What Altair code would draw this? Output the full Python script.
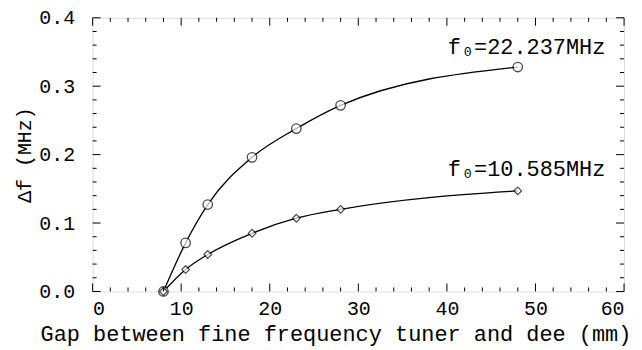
import altair as alt
import pandas as pd

gap = [8, 10.5, 13, 18, 23, 28, 48]
df_22 = [0.0, 0.071, 0.127, 0.196, 0.238, 0.272, 0.328]
df_10 = [0.0, 0.032, 0.054, 0.085, 0.107, 0.120, 0.147]

x_major = [0, 10, 20, 30, 40, 50, 60]
x_minor = [v for v in range(2, 60, 2) if v % 10 != 0]
y_major = [0.0, 0.1, 0.2, 0.3, 0.4]
y_minor = [round(0.02 * i, 2) for i in range(1, 20) if i % 5 != 0]

labels = ["f\u2080=22.237MHz", "f\u2080=10.585MHz"]
label_x = [40.1, 40.1]
label_y = [0.347, 0.169]

W, H = 534, 275
FONT = "Liberation Mono"

xs = alt.Scale(domain=[0, 60], nice=False, zero=False)
ys = alt.Scale(domain=[0, 0.4], nice=False)

data = pd.DataFrame({
    "gap": gap * 2,
    "df": df_22 + df_10,
    "series": ["a"] * len(gap) + ["b"] * len(gap),
})

X = alt.X("gap:Q", scale=xs, axis=alt.Axis(
    title="Gap between fine frequency tuner and dee (mm)", values=x_major,
    ticks=False, domain=False, grid=False, labelFontSize=20, titleFontSize=22,
    labelFont=FONT, titleFont=FONT, labelPadding=7,
    titleX=244, titleY=49, titleAlign="center", titleBaseline="alphabetic",
    titleFontWeight="normal", labelColor="black", titleColor="black"))
Y = alt.Y("df:Q", scale=ys, axis=alt.Axis(
    title="\u0394f (MHz)", values=y_major, format=".1f",
    ticks=False, domain=False, grid=False, labelFontSize=20, titleFontSize=20,
    labelFont=FONT, titleFont=FONT, labelPadding=18, titlePadding=4,
    titleFontWeight="normal", labelColor="black", titleColor="black"))

base = alt.Chart(data)
lines = base.mark_line(interpolate="monotone", color="black", strokeWidth=1.3).encode(
    x=X, y=Y, detail="series:N")
circles = alt.Chart(data[data.series == "a"]).mark_point(
    shape="circle", size=90, filled=True, fill="white", stroke="black", strokeWidth=1.3
).encode(x=alt.X("gap:Q", scale=xs), y=alt.Y("df:Q", scale=ys))
diamonds = alt.Chart(data[data.series == "b"]).mark_point(
    shape="diamond", size=60, filled=True, fill="white", stroke="black", strokeWidth=1.2
).encode(x=alt.X("gap:Q", scale=xs), y=alt.Y("df:Q", scale=ys))

lab = pd.DataFrame({"t": labels, "x": label_x, "y": label_y})
texts = alt.Chart(lab).mark_text(align="left", baseline="alphabetic", font=FONT,
                                 fontSize=22, color="black").encode(
    x=alt.X("x:Q", scale=xs), y=alt.Y("y:Q", scale=ys), text="t:N")

def xticks(vals, length):
    d = pd.DataFrame({"v": vals})
    b = alt.Chart(d).mark_rule(color="black", strokeWidth=1)
    bottom = b.encode(x=alt.X("v:Q", scale=xs), y=alt.value(H), y2=alt.value(H - length))
    top = b.encode(x=alt.X("v:Q", scale=xs), y=alt.value(0), y2=alt.value(length))
    return bottom + top

def yticks(vals, length):
    d = pd.DataFrame({"v": vals})
    b = alt.Chart(d).mark_rule(color="black", strokeWidth=1)
    left = b.encode(y=alt.Y("v:Q", scale=ys), x=alt.value(0), x2=alt.value(length))
    right = b.encode(y=alt.Y("v:Q", scale=ys), x=alt.value(W), x2=alt.value(W - length))
    return left + right

chart = alt.layer(
    lines, circles, diamonds, texts,
    xticks(x_major, 8), xticks(x_minor, 4), yticks(y_major, 8), yticks(y_minor, 4)
).properties(
    width=W, height=H, autosize=alt.AutoSizeParams(type="none"),
    padding={"left": 85, "top": 9, "right": 10, "bottom": 57}
).configure_view(stroke="black", strokeWidth=1.5).configure(background="white")

chart.save("out.html", embed_options={"renderer": "svg", "actions": False})
